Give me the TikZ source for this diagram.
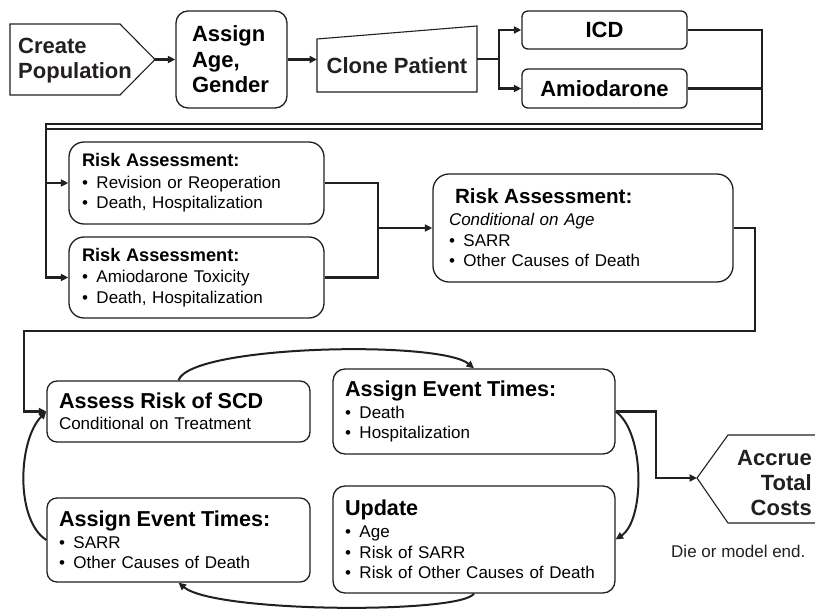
\documentclass[tikz,border=0pt]{standalone}
\usepackage{fontspec}
\setmainfont{Liberation Sans}
\usetikzlibrary{arrows.meta}
\definecolor{ink}{HTML}{231F20}
\newcommand\mybul{\makebox[14.5pt][l]{•}}
\newcommand\bigb{\fontsize{22}{25.5}\selectfont\bfseries}
\newcommand\ttlA{\fontsize{18.2}{20.5}\selectfont\bfseries}
\newcommand\ttlB{\fontsize{20.6}{20.5}\selectfont\bfseries}
\newcommand\ttlC{\fontsize{21.6}{20.5}\selectfont\bfseries}
\newcommand\bodyf{\fontsize{17}{20.5}\selectfont}
\begin{document}
\begin{tikzpicture}[x=1pt,y=-1pt,
  outline/.style={draw=ink, line width=1.1pt},
  box/.style={draw=ink, fill=white, line width=1.3pt, rounded corners=#1, inner ysep=0pt, align=left, font=\bodyf},
  box/.default=10pt,
  conn/.style={draw=ink, line width=2.2pt},
  arr/.style={conn, -{Triangle[length=7.5pt,width=7pt]}},
  carr/.style={draw=ink, line width=2pt, -{Triangle[length=7.5pt,width=7pt]}},
  plain/.style={inner sep=0pt, text=ink}
]
\useasboundingbox[fill=white] (0,0) rectangle (815,610);

% ---- top row ----
\draw[outline] (10,24) -- (120,24) -- (155,59.5) -- (120,95) -- (10,95) -- cycle;
\coordinate (cptip) at (155,59.5);
\node[plain, align=left, anchor=west, font=\bigb] (cp) at (18,60.5) {Create\\Population};

\node[box=12pt, text width=79pt, inner xsep=16pt, minimum height=97pt, font=\bigb] (aa) at (231.5,59.5) {Assign\\Age,\\Gender};

\draw[outline] (317,39) -- (477,26) -- (477,92) -- (317,92) -- cycle;
\node[plain, font=\bigb] (clone) at (397,66) {Clone Patient};
\coordinate (clin) at (317,59.5);
\coordinate (clout) at (477,59);
\coordinate (split) at (499,59);

\node[box=6pt, align=center, minimum width=165pt, minimum height=38pt, font=\bigb] (icd) at (604.5,30) {ICD};
\node[box=6pt, align=center, minimum width=165pt, minimum height=39pt, font=\bigb] (amio) at (604.5,88.5) {Amiodarone};

\draw[arr] (cptip) -- (aa.west);
\draw[arr] (aa.east) -- (clin);
\draw[conn] (clout) -- (split);
\draw[arr] (split) |- (icd.west);
\draw[arr] (split) |- (amio.west);

% ---- risk assessments ----
\node[box=15pt, text width=229pt, inner xsep=13pt, minimum height=82pt] (ra1) at (196.5,183)
  {{\ttlA Risk Assessment:}\\[1pt]\mybul Revision or Reoperation\\\mybul Death, Hospitalization};
\node[box=15pt, text width=229pt, inner xsep=13pt, minimum height=81pt] (ra2) at (196.5,277.5)
  {{\ttlA Risk Assessment:}\\[1pt]\mybul Amiodarone Toxicity\\\mybul Death, Hospitalization};
\node[box=16pt, text width=268pt, inner xsep=16pt, minimum height=108pt] (ra3) at (583,228)
  {\hspace*{6pt}{\ttlB Risk Assessment:}\\[1.5pt]\textit{Conditional on Age}\\\mybul SARR\\\mybul Other Causes of Death};

\draw[arr] (icd.east) -- (762,30) -- (762,129) -- (46,129) |- (ra1.west);
\draw[arr] (amio.east) -| (762,124) -- (46,124) |- (ra2.west);

\coordinate (m1) at (378,228);
\draw[conn] (ra1.east) -| (m1);
\draw[conn] (ra2.east) -| (m1);
\draw[arr] (m1) -- (ra3.west);

% ---- simulation loop ----
\node[box=10pt, text width=239pt, inner xsep=12pt, minimum height=61pt] (as) at (178.5,411.5)
  {{\ttlC Assess Risk of SCD}\\[1pt]Conditional on Treatment};
\node[box=12pt, text width=258pt, inner xsep=12pt, minimum height=85pt] (aer) at (474,411.5)
  {{\ttlC Assign Event Times:}\\[1.5pt]\mybul Death\\\mybul Hospitalization};
\node[box=12pt, text width=258pt, inner xsep=12pt, minimum height=107pt] (up) at (474,539.5)
  {{\ttlC Update}\\[1.5pt]\mybul Age\\\mybul Risk of SARR\\\mybul Risk of Other Causes of Death};
\node[box=10pt, text width=239pt, inner xsep=12pt, minimum height=84pt] (ael) at (178.5,540)
  {{\ttlC Assign Event Times:}\\[1.5pt]\mybul SARR\\\mybul Other Causes of Death};

\draw[arr] (ra3.east) -- (755,228) -- (755,331) -- (24,331) |- (as.west);

\draw[carr] (as.north) .. controls (190,345) and (440,340) .. (aer.north);
\draw[carr] (aer.east) .. controls (645,432) and (645,520) .. (up.east);
\draw[carr] (up.south) .. controls (460,614) and (215,613) .. (ael.south);
\draw[carr] (ael.west) .. controls (15,520) and (18,440) .. (as.west);

% ---- exit ----
\draw[outline] (815,435) -- (728,435) -- (697,478) -- (728,523) -- (815,523);
\coordinate (acctip) at (697,478);
\node[plain, align=right, anchor=east, font=\fontsize{22}{25}\selectfont\bfseries] (acc) at (812,483) {Accrue\\Total\\Costs};
\draw[arr] (aer.east) -- (656,411.5) |- (acctip);
\node[plain, anchor=west, font=\bodyf] (die) at (671,551) {Die or model end.};
\end{tikzpicture}
\end{document}
